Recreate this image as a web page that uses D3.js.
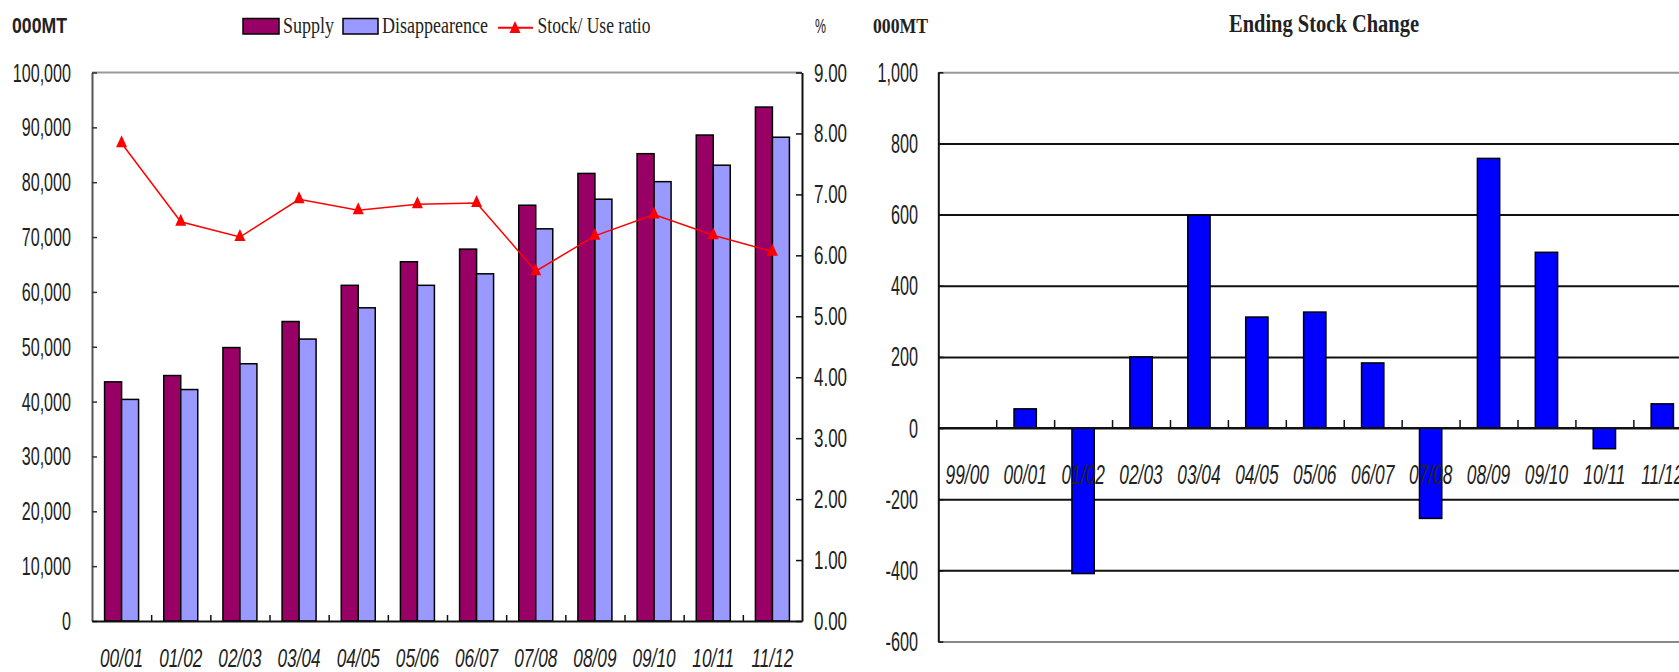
<!DOCTYPE html>
<html><head><meta charset="utf-8">
<script src="https://cdn.jsdelivr.net/npm/d3@7"></script>
<style>body{margin:0;background:#fff;overflow:hidden}svg{display:block}</style>
</head><body>
<svg id="c" width="1679" height="672"></svg>
<script>
// ---------- data ----------
const categories = ["00/01","01/02","02/03","03/04","04/05","05/06","06/07","07/08","08/09","09/10","10/11","11/12"];
const supply = [43600, 44750, 49850, 54600, 61200, 65500, 67800, 75800, 81600, 85200, 88600, 93700];
const disappearance = [40400, 42200, 46900, 51400, 57100, 61200, 63300, 71500, 76900, 80100, 83100, 88200];
const stockUseRatio = [7.84, 6.55, 6.30, 6.92, 6.74, 6.84, 6.86, 5.74, 6.32, 6.67, 6.33, 6.06];
const leftTicks = [0,10000,20000,30000,40000,50000,60000,70000,80000,90000,100000];
const rightTicks = [0,1,2,3,4,5,6,7,8,9];

const changeCategories = ["99/00","00/01","01/02","02/03","03/04","04/05","05/06","06/07","07/08","08/09","09/10","10/11","11/12"];
const stockChange = [0, 54, -409, 200, 598, 312, 326, 183, -254, 758, 494, -58, 68];
const changeTicks = [-600,-400,-200,0,200,400,600,800,1000];

// ---------- helpers ----------
const svg = d3.select("#c");
const SANS = "'Liberation Sans', Arial, sans-serif";
const SERIF = "'Liberation Serif', 'Times New Roman', serif";
const TXT = "#222";
function txt(x, y, s, o) {
  const t = svg.append("text")
    .attr("font-family", o.family || SANS)
    .attr("font-size", o.size)
    .attr("font-weight", o.weight || "normal")
    .attr("font-style", o.style || "normal")
    .attr("text-anchor", o.anchor || "start")
    .attr("fill", o.fill || TXT)
    .text(s);
  if (o.len) {
    t.attr("x", x).attr("y", y).attr("textLength", o.len).attr("lengthAdjust", "spacingAndGlyphs");
  } else {
    t.attr("transform", `translate(${x},${y}) scale(${o.sx || 1},1)`);
  }
  return t;
}

// ================= LEFT CHART =================
const L = {x0: 92, x1: 802, yTop: 72.5, yBot: 621};
const x = d3.scaleBand(categories, [L.x0, L.x1]);
const xs = d3.scaleBand(["supply","disappearance"], [0, x.bandwidth()]).paddingInner(0).paddingOuter(0.74);
const y = d3.scaleLinear([0, 100000], [L.yBot, L.yTop]);
const yR = d3.scaleLinear([0, 9], [L.yBot, L.yTop]);
const xEdge = d3.scaleLinear([0, categories.length], [L.x0, L.x1]);

// top frame line
svg.append("line").attr("x1", L.x0).attr("x2", L.x1).attr("y1", L.yTop).attr("y2", L.yTop)
  .attr("stroke", "#999").attr("stroke-width", 2);

// bars
const gBars = svg.append("g");
gBars.selectAll("rect.s").data(supply).join("rect")
  .attr("x", (d,i) => x(categories[i]) + xs("supply"))
  .attr("y", d => y(d)).attr("width", xs.bandwidth()).attr("height", d => y(0) - y(d))
  .attr("fill", "#990066").attr("stroke", "#000").attr("stroke-width", 1.5);
gBars.selectAll("rect.d").data(disappearance).join("rect")
  .attr("x", (d,i) => x(categories[i]) + xs("disappearance"))
  .attr("y", d => y(d)).attr("width", xs.bandwidth()).attr("height", d => y(0) - y(d))
  .attr("fill", "#9999ff").attr("stroke", "#000").attr("stroke-width", 1.5);

// left axis
const axL = svg.append("g").attr("transform", `translate(${L.x0},0)`)
  .call(d3.axisLeft(y).tickValues(leftTicks).tickSizeInner(-5).tickSizeOuter(0).tickFormat(""));
axL.select(".domain").attr("stroke", "#555").attr("stroke-width", 2);
axL.selectAll(".tick line").attr("stroke", "#333").attr("stroke-width", 1.5);
leftTicks.forEach(v => txt(71, y(v) + 9, d3.format(",")(v), {size: 25, anchor: "end", sx: 0.645}));

// right axis
const axR = svg.append("g").attr("transform", `translate(${L.x1},0)`)
  .call(d3.axisRight(yR).tickValues(rightTicks).tickSizeInner(-6).tickSizeOuter(0).tickFormat(""));
axR.select(".domain").attr("stroke", "#111").attr("stroke-width", 2);
axR.selectAll(".tick line").attr("stroke", "#111").attr("stroke-width", 1.5);
rightTicks.forEach(v => txt(814, yR(v) + 9, d3.format(".2f")(v), {size: 25, anchor: "start", sx: 0.68}));

// bottom axis
const axB = svg.append("g").attr("transform", `translate(0,${L.yBot})`)
  .call(d3.axisBottom(xEdge).tickValues(d3.range(1, categories.length)).tickSizeInner(-6).tickSizeOuter(0).tickFormat(""));
axB.select(".domain").attr("stroke", "#111").attr("stroke-width", 2);
axB.selectAll(".tick line").attr("stroke", "#111").attr("stroke-width", 1.5);
categories.forEach(c => txt(x(c) + x.bandwidth()/2, 666.5, c, {size: 25, anchor: "middle", style: "italic", sx: 0.69}));

// ratio line
const tri = "M0,-8L5.5,4L-5.5,4Z";
const line = d3.line().x((d,i) => x(categories[i]) + x.bandwidth()/2).y(d => yR(d));
svg.append("path").datum(stockUseRatio).attr("d", line)
  .attr("fill", "none").attr("stroke", "#ff0000").attr("stroke-width", 1.5);
svg.append("g").selectAll("path").data(stockUseRatio).join("path")
  .attr("d", tri)
  .attr("transform", (d,i) => `translate(${x(categories[i]) + x.bandwidth()/2},${yR(d)})`)
  .attr("fill", "#ff0000");

// unit labels + legend
txt(12, 33, "000MT", {size: 22, family: SANS, weight: "bold", len: 55});
txt(815, 33, "%", {size: 20, family: SANS, len: 11});
svg.append("rect").attr("x", 243).attr("y", 18.5).attr("width", 36).attr("height", 15.5)
  .attr("fill", "#990066").attr("stroke", "#000").attr("stroke-width", 1.5);
txt(283, 33.3, "Supply", {size: 23.5, family: SERIF, len: 51});
svg.append("rect").attr("x", 343).attr("y", 18.5).attr("width", 35).attr("height", 15.5)
  .attr("fill", "#9999ff").attr("stroke", "#000").attr("stroke-width", 1.5);
txt(382, 33.3, "Disappearence", {size: 23.5, family: SERIF, len: 106});
svg.append("line").attr("x1", 498).attr("x2", 533).attr("y1", 27.7).attr("y2", 27.7)
  .attr("stroke", "#ff0000").attr("stroke-width", 2);
svg.append("path").attr("d", tri).attr("transform", "translate(515,29)").attr("fill", "#ff0000");
txt(537.5, 33.3, "Stock/ Use ratio", {size: 23.5, family: SERIF, len: 113});

// ================= RIGHT CHART =================
const R = {x0: 938.3, step: 57.92, yTop: 72.3, yBot: 641.5};
const xC = d3.scaleBand(changeCategories, [R.x0, R.x0 + R.step * changeCategories.length])
  .paddingInner(0.615).paddingOuter(0.3075);
const xCEdge = d3.scaleLinear([0, changeCategories.length], [R.x0, R.x0 + R.step * changeCategories.length]);
const yC = d3.scaleLinear([-600, 1000], [R.yBot, R.yTop]);

// gridlines
const gridG = svg.append("g").attr("transform", `translate(${R.x0},0)`)
  .call(d3.axisLeft(yC).tickValues(changeTicks).tickSizeInner(-(1679 - R.x0)).tickSizeOuter(0).tickFormat(""));
gridG.select(".domain").remove();
gridG.selectAll(".tick line")
  .attr("stroke", d => (d === 1000 ? "#999" : d === -600 ? "#888" : "#111"))
  .attr("stroke-width", 2);

// bars
svg.append("g").selectAll("rect")
  .data(changeCategories.map((c, i) => ({c, v: stockChange[i]})).filter(d => d.v !== 0))
  .join("rect")
  .attr("x", d => xC(d.c)).attr("width", xC.bandwidth())
  .attr("y", d => yC(Math.max(0, d.v))).attr("height", d => Math.abs(yC(d.v) - yC(0)))
  .attr("fill", "#0000ff").attr("stroke", "#000").attr("stroke-width", 1.5);

// category tick marks on zero line
const axC0 = svg.append("g").attr("transform", `translate(0,${yC(0)})`)
  .call(d3.axisBottom(xCEdge).tickValues(d3.range(1, changeCategories.length)).tickSizeInner(-8).tickSizeOuter(0).tickFormat(""));
axC0.select(".domain").remove();
axC0.selectAll(".tick line").attr("stroke", "#111").attr("stroke-width", 1.5);
svg.append("line").attr("x1", R.x0).attr("x2", 1679).attr("y1", yC(0)).attr("y2", yC(0))
  .attr("stroke", "#111").attr("stroke-width", 2);

// left axis of right chart
const axCL = svg.append("g").attr("transform", `translate(${R.x0},0)`)
  .call(d3.axisLeft(yC).tickValues(changeTicks).tickSizeInner(-5).tickSizeOuter(0).tickFormat(""));
axCL.select(".domain").attr("stroke", "#111").attr("stroke-width", 2);
axCL.selectAll(".tick line").attr("stroke", "#111").attr("stroke-width", 1.5);
changeTicks.forEach(v => txt(918, yC(v) + 9.5, d3.format(",")(v).replace("−", "-"), {size: 27, anchor: "end", sx: 0.6}));
changeCategories.forEach(c => txt(xC(c) + xC.bandwidth()/2, 484, c, {size: 28, anchor: "middle", style: "italic", sx: 0.62}));

// titles
txt(873, 33, "000MT", {size: 22, family: SERIF, weight: "bold", len: 55});
txt(1229, 32, "Ending Stock Change", {size: 25, family: SERIF, weight: "bold", len: 190});
</script>
</body></html>
